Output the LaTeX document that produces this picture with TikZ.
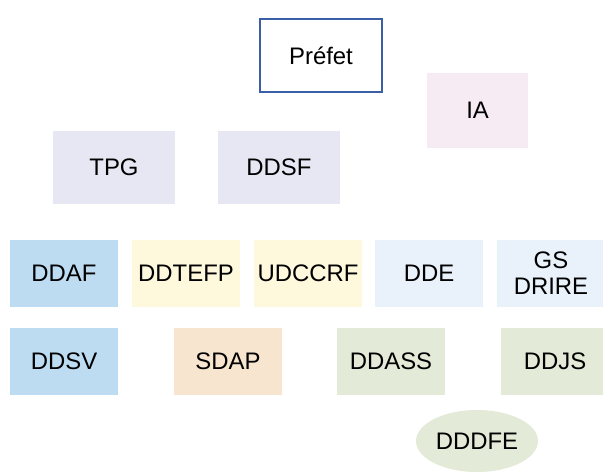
\documentclass[tikz,border=0pt]{standalone}
\usepackage{xcolor}
\usepackage{fontspec}
\setmainfont{Liberation Sans}
\usepackage{tikz}
\usetikzlibrary{calc}
\usetikzlibrary{shapes.geometric}

\definecolor{prefetblue}{HTML}{3A5EA8}
\definecolor{iapink}{HTML}{F6EBF3}
\definecolor{tresor}{HTML}{E6E7F3}
\definecolor{agriblue}{HTML}{BDDCF2}
\definecolor{travyellow}{HTML}{FEF8DC}
\definecolor{equipblue}{HTML}{E9F2FB}
\definecolor{sdappeach}{HTML}{F8E5CF}
\definecolor{santegreen}{HTML}{E3EAD7}

\begin{document}
\begin{tikzpicture}
		\useasboundingbox (0,0) rectangle (15.075,-11.775);
		\begin{scope}[every node/.style={shape=rectangle,inner sep=0pt,
			minimum width=2.7cm,minimum height=1.675cm,align=center,
			font=\fontsize{17}{18.5}\selectfont}]
		\node[draw=prefetblue,line width=1.5pt,minimum width=3.05cm,minimum height=1.825cm] (prefet) at (8.025,-1.3875) {Préfet};
		\node[fill=iapink,minimum width=2.525cm,minimum height=1.875cm] (IA) at (11.94,-2.76) {IA};
		\node[fill=tresor,minimum width=3.05cm,minimum height=1.825cm] (TPG) at (2.85,-4.19) {TPG};
		\node[fill=tresor,minimum width=3.05cm,minimum height=1.825cm] (DDSF) at (6.975,-4.19) {DDSF};

		\node[fill=agriblue] (DDAF) at (1.6,-6.84) {DDAF};
		\node[fill=travyellow] (DDTEFP) at (4.65,-6.84) {DDTEFP};
		\node[fill=travyellow] (UDCCRF) at (7.7,-6.84) {UDCCRF};
		\node[fill=equipblue] (DDE) at (10.725,-6.84) {DDE};
		\node[fill=equipblue] (GSDRIRE) at (13.775,-6.84) {GS\\DRIRE};

		\node[fill=agriblue] (DDSV) at (1.6,-9.04) {DDSV};
		\node[fill=sdappeach] (SDAP) at (5.7,-9.04) {SDAP};
		\node[fill=santegreen] (DDASS) at (9.775,-9.04) {DDASS};
		\node[fill=santegreen] (DDJS) at (13.875,-9.04) {DDJS};
		\node[shape=ellipse,fill=santegreen,minimum width=3.05cm,minimum height=1.55cm] (DDDFE) at (11.925,-11.025) {DDDFE};
		\end{scope}
		\end{tikzpicture}
\end{document}
